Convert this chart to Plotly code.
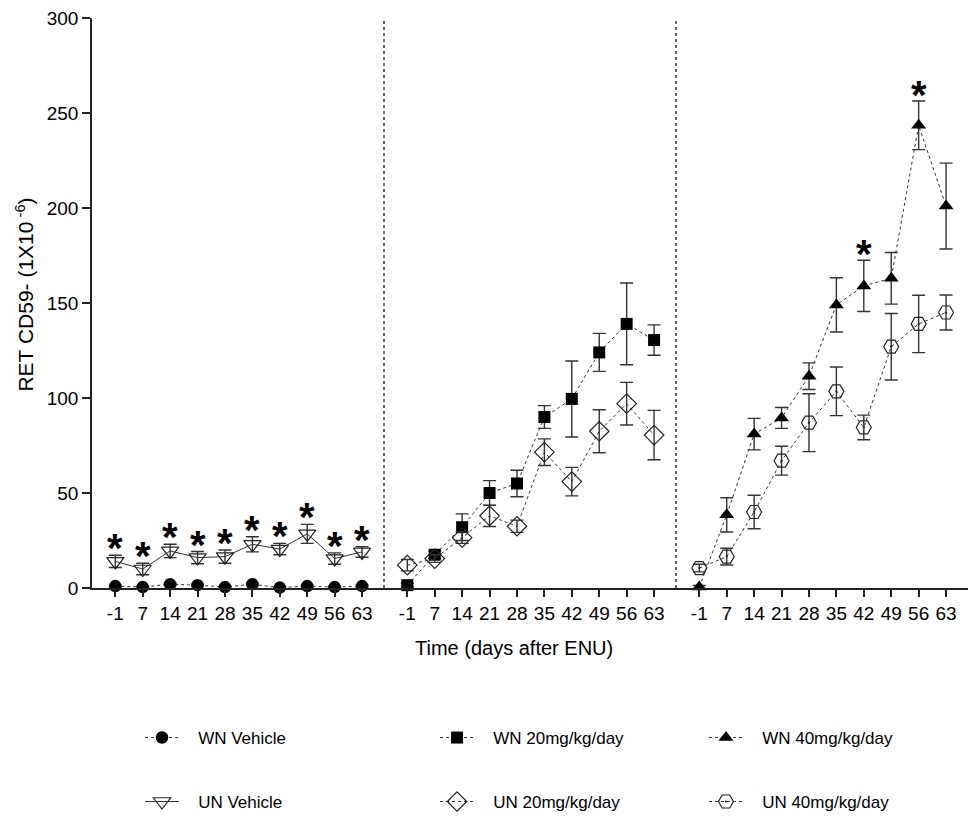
import plotly.graph_objects as go

# Sampling days (categorical, equally spaced on each panel)
days = ["-1", "7", "14", "21", "28", "35", "42", "49", "56", "63"]

# RET CD59- frequency (x 10^-6), mean and SEM per group
wn_vehicle = [1.0, 0.5, 2.0, 1.5, 0.5, 2.0, 0.2, 1.0, 0.5, 1.0]
wn_vehicle_err = [0.5, 0.4, 0.6, 0.5, 0.4, 0.6, 0.3, 0.5, 0.4, 0.5]
un_vehicle = [14.0, 10.0, 19.5, 16.0, 16.5, 23.0, 20.5, 28.5, 15.5, 19.0]
un_vehicle_err = [3.2, 3.0, 3.5, 3.2, 3.5, 4.0, 3.0, 5.0, 3.0, 2.8]

wn_20 = [1.5, 17.5, 32.0, 50.0, 55.0, 90.0, 99.5, 124.0, 139.0, 130.5]
wn_20_err = [1.0, 2.0, 7.0, 6.5, 7.0, 6.0, 20.0, 10.0, 21.5, 8.0]
un_20 = [12.0, 15.5, 26.5, 38.0, 32.5, 71.5, 56.0, 82.5, 97.0, 80.5]
un_20_err = [3.0, 2.0, 3.0, 5.6, 3.2, 7.0, 7.5, 11.3, 11.2, 13.0]

wn_40 = [0.5, 38.5, 81.0, 89.5, 111.5, 149.0, 159.0, 163.0, 243.5, 201.0]
wn_40_err = [0.8, 9.0, 8.3, 5.5, 7.0, 14.3, 13.5, 13.6, 12.8, 22.6]
un_40 = [10.5, 16.5, 40.0, 67.0, 87.0, 103.5, 84.5, 127.0, 139.0, 145.0]
un_40_err = [2.0, 4.4, 8.8, 7.6, 15.2, 12.8, 6.5, 17.5, 15.1, 9.2]

# Days flagged as significant (UN vs WN) in each panel
stars_vehicle = ["-1", "7", "14", "21", "28", "35", "42", "49", "56", "63"]
stars_40 = ["42", "56"]

FONT = "Liberation Sans, Arial, sans-serif"
INK = "#222222"
PAD = "\u00a0\u00a0\u00a0"  # extra room between legend symbol and label

fig = go.Figure()


def add_series(name, y, err, xaxis, symbol, size, dash, legend, filled):
    fig.add_trace(go.Scatter(
        x=days, y=y, name=PAD + name, xaxis=xaxis, yaxis="y",
        mode="lines+markers",
        line=dict(color="#333333", width=1, dash=dash),
        marker=dict(symbol=symbol, size=size,
                    color="black" if filled else INK,
                    line=dict(color=INK, width=0 if filled else 1.2)),
        error_y=dict(type="data", array=err, visible=True,
                     color="#333333", thickness=1.4, width=6.5),
        legend=legend, legendgroup=name,
        cliponaxis=False,
    ))


# one legend box per entry: columns by dose, rows by strain
add_series("WN Vehicle", wn_vehicle, wn_vehicle_err, "x", "circle", 12.5, "dot", "legend", True)
add_series("UN Vehicle", un_vehicle, un_vehicle_err, "x", "triangle-down-open", 15, "solid", "legend4", False)
add_series("WN 20mg/kg/day", wn_20, wn_20_err, "x2", "square", 12, "dot", "legend2", True)
add_series("UN 20mg/kg/day", un_20, un_20_err, "x2", "diamond-open", 15, "dot", "legend5", False)
add_series("WN 40mg/kg/day", wn_40, wn_40_err, "x3", "triangle-up", 13, "dot", "legend3", True)
add_series("UN 40mg/kg/day", un_40, un_40_err, "x3", "hexagon2-open-dot", 15, "dot", "legend6", False)

annotations = []
star_font = dict(family=FONT, size=40, color="black")
# significance markers above the upper error bar
for d in stars_vehicle:
    i = days.index(d)
    annotations.append(dict(x=i, y=un_vehicle[i] + un_vehicle_err[i], xref="x", yref="y",
                            text="<b>*</b>", showarrow=False, yanchor="bottom",
                            yshift=-17, font=star_font))
for d in stars_40:
    i = days.index(d)
    annotations.append(dict(x=i, y=wn_40[i] + wn_40_err[i], xref="x3", yref="y",
                            text="<b>*</b>", showarrow=False, yanchor="bottom",
                            yshift=-18, font=star_font))

annotations.append(dict(x=0.482, y=-0.105, xref="paper", yref="paper",
                        text="Time (days after ENU)", showarrow=False,
                        xanchor="center", yanchor="middle",
                        font=dict(family=FONT, size=20, color="black")))
annotations.append(dict(x=-0.077, y=0.514, xref="paper", yref="paper",
                        text="RET CD59- (1X10<sup> -6</sup>)", showarrow=False,
                        textangle=-90, xanchor="center", yanchor="middle",
                        font=dict(family=FONT, size=21, color="black")))

xcommon = dict(type="category", range=[-0.85, 9.8], showline=True, linecolor=INK,
               linewidth=1.5, ticks="outside", ticklen=7, tickwidth=1.5, tickcolor=INK,
               showgrid=False, zeroline=False, anchor="y",
               tickfont=dict(family=FONT, size=19, color="black"), fixedrange=True)


def legend_box(x, y):
    return dict(orientation="v", yanchor="middle", y=y, yref="container",
                xanchor="left", x=x,
                font=dict(family=FONT, size=17, color="black"),
                itemwidth=34, bgcolor="rgba(0,0,0,0)")


row1, row2 = 0.0956, 0.0172
col1, col2, col3 = 0.0548, 0.3916, 0.6986

fig.update_layout(
    width=968, height=816,
    margin=dict(l=92, r=0, t=18, b=228, autoexpand=False),
    paper_bgcolor="white", plot_bgcolor="white",
    font=dict(family=FONT, color="black"),
    xaxis=dict(domain=[0, 1 / 3], **xcommon),
    xaxis2=dict(domain=[1 / 3, 2 / 3], **xcommon),
    xaxis3=dict(domain=[2 / 3, 1], **xcommon),
    yaxis=dict(range=[0, 300], tickvals=[0, 50, 100, 150, 200, 250, 300],
               showline=True, linecolor=INK, linewidth=1.5, ticks="outside",
               ticklen=8, tickwidth=1.5, tickcolor=INK, showgrid=False,
               zeroline=False, tickfont=dict(family=FONT, size=19, color="black"),
               anchor="x", fixedrange=True),
    showlegend=True,
    legend=legend_box(col1, row1),
    legend2=legend_box(col2, row1),
    legend3=legend_box(col3, row1),
    legend4=legend_box(col1, row2),
    legend5=legend_box(col2, row2),
    legend6=legend_box(col3, row2),
    annotations=annotations,
    shapes=[
        dict(type="line", xref="paper", yref="paper", x0=1 / 3, x1=1 / 3, y0=0, y1=1,
             line=dict(color="#333333", width=1.5, dash="dot")),
        dict(type="line", xref="paper", yref="paper", x0=2 / 3, x1=2 / 3, y0=0, y1=1,
             line=dict(color="#333333", width=1.5, dash="dot")),
    ],
)

fig.write_html("out.html")
